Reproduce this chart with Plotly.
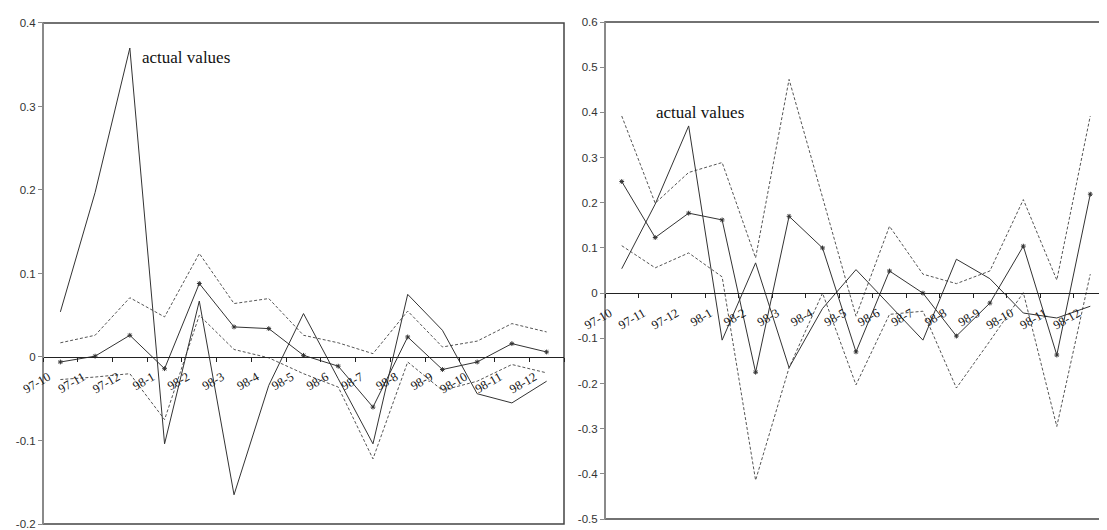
import plotly.graph_objects as go

months = ["97-10", "97-11", "97-12", "98-1", "98-2", "98-3", "98-4", "98-5",
          "98-6", "98-7", "98-8", "98-9", "98-10", "98-11", "98-12"]

# actual values (same in both panels)
actual = [0.054, 0.197, 0.370, -0.104, 0.067, -0.165, -0.034, 0.052,
          -0.026, -0.104, 0.075, 0.032, -0.044, -0.055, -0.029]

# left panel
left_fc = [-0.006, 0.001, 0.026, -0.014, 0.088, 0.036, 0.034, 0.002,
           -0.011, -0.060, 0.024, -0.015, -0.006, 0.016, 0.006]
left_up = [0.017, 0.026, 0.071, 0.048, 0.124, 0.064, 0.070, 0.026,
           0.017, 0.004, 0.055, 0.012, 0.019, 0.040, 0.030]
left_lo = [-0.027, -0.024, -0.020, -0.075, 0.050, 0.009, -0.001, -0.020,
           -0.036, -0.122, -0.006, -0.040, -0.029, -0.009, -0.019]

# right panel
right_fc = [0.247, 0.123, 0.177, 0.162, -0.175, 0.170, 0.100, -0.130,
            0.049, 0.000, -0.095, -0.022, 0.104, -0.137, 0.219]
right_up = [0.392, 0.199, 0.267, 0.289, 0.078, 0.473, 0.212, -0.051,
            0.148, 0.042, 0.021, 0.049, 0.207, 0.029, 0.392]
right_lo = [0.105, 0.056, 0.089, 0.036, -0.414, -0.165, 0.000, -0.203,
            -0.047, -0.040, -0.210, -0.106, 0.001, -0.295, 0.042]

left_yticks = [-0.2, -0.1, 0, 0.1, 0.2, 0.3, 0.4]
left_ytext = ["-0.2", "-0.1", "0", "0.1", "0.2", "0.3", "0.4"]
right_yticks = [-0.5, -0.4, -0.3, -0.2, -0.1, 0, 0.1, 0.2, 0.3, 0.4, 0.5, 0.6]
right_ytext = ["-0.5", "-0.4", "-0.3", "-0.2", "-0.1", "0", "0.1", "0.2",
               "0.3", "0.4", "0.5", "0.6"]

label_text = "actual values"

W, H = 1107, 530
ML, MR, MT, MB = 35, 8, 12, 8
PW, PH = W - ML - MR, H - MT - MB


def fx(px):
    return (px - ML) / PW


def fy(py):
    return (H - MB - py) / PH


L_dom = [fx(35), fx(556)]
R_dom = [fx(597), fx(1099)]
L_ydom = [fy(522), fy(13)]
R_ydom = [fy(517), fy(12)]

L_range = [-0.2, 0.4]
R_range = [-0.5, 0.6]


def zero_pos(dom, rng):
    return dom[0] + (0 - rng[0]) / (rng[1] - rng[0]) * (dom[1] - dom[0])


fig = go.Figure()

line_dark = "#333333"
dash_col = "#555555"


def add_panel(xa, ya, fc, up, lo):
    fig.add_trace(go.Scatter(x=months, y=up, mode="lines", xaxis=xa, yaxis=ya,
                             line=dict(color=dash_col, width=1, dash="3px,2px")))
    fig.add_trace(go.Scatter(x=months, y=lo, mode="lines", xaxis=xa, yaxis=ya,
                             line=dict(color=dash_col, width=1, dash="3px,2px")))
    fig.add_trace(go.Scatter(x=months, y=actual, mode="lines", xaxis=xa, yaxis=ya,
                             line=dict(color=line_dark, width=1)))
    fig.add_trace(go.Scatter(x=months, y=fc, mode="lines+markers", xaxis=xa, yaxis=ya,
                             line=dict(color=line_dark, width=1),
                             marker=dict(symbol="asterisk-open", size=4,
                                         line=dict(color="#222222", width=1))))


add_panel("x", "y", left_fc, left_up, left_lo)
add_panel("x2", "y2", right_fc, right_up, right_lo)

xcommon = dict(type="category", range=[-0.5, 14.5], anchor="free",
               showline=True, linecolor="#222222", linewidth=1,
               ticks="outside", ticklen=4, tickcolor="#222222", tickson="boundaries",
               tickangle=-30, showgrid=False, zeroline=False,
               ticklabelstandoff=7, ticklabelshift=-12,
               tickfont=dict(family="Liberation Serif", size=12.5, color="#111111"))
ycommon = dict(anchor="free", showline=True, linecolor="#8a8a8a", linewidth=2,
               ticks="outside", ticklen=4, tickcolor="#8a8a8a", showgrid=False,
               zeroline=False,
               tickfont=dict(family="Liberation Sans", size=11.5, color="#333333"))

fig.update_layout(
    width=W, height=H,
    margin=dict(l=ML, r=MR, t=MT, b=MB),
    paper_bgcolor="white", plot_bgcolor="white",
    showlegend=False,
    xaxis=dict(xcommon, domain=L_dom, position=zero_pos(L_ydom, L_range)),
    yaxis=dict(ycommon, domain=L_ydom, range=L_range, position=L_dom[0],
               tickvals=left_yticks, ticktext=left_ytext),
    xaxis2=dict(xcommon, domain=R_dom, position=zero_pos(R_ydom, R_range)),
    yaxis2=dict(ycommon, domain=R_ydom, range=R_range, position=R_dom[0],
                tickvals=right_yticks, ticktext=right_ytext),
)

for xr, yr in (("x domain", "y domain"), ("x2 domain", "y2 domain")):
    fig.add_shape(type="rect", xref=xr, yref=yr, x0=0, x1=1, y0=0, y1=1,
                  line=dict(color="#444444", width=1.5), layer="below")

fig.add_annotation(x=2.3, y=0.359, xref="x", yref="y", text=label_text,
                   showarrow=False, xanchor="left", yanchor="middle",
                   font=dict(family="Liberation Serif", size=17, color="#111111"))
fig.add_annotation(x=0.97, y=0.40, xref="x2", yref="y2", text=label_text,
                   showarrow=False, xanchor="left", yanchor="middle",
                   font=dict(family="Liberation Serif", size=17, color="#111111"))

fig.write_html("out.html")
